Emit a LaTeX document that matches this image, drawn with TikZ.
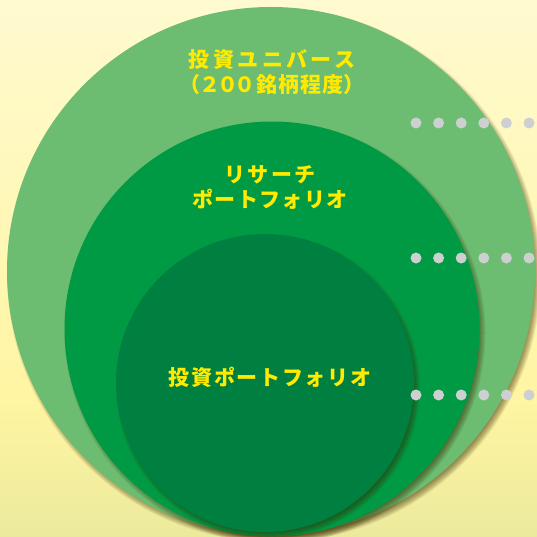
\documentclass[tikz,border=0pt]{standalone}
\usepackage{fontspec}
\newfontfamily\jp{Noto Sans CJK JP}
\definecolor{bgtop}{HTML}{FFFAD0}
\definecolor{bgmid}{HTML}{FFF5A2}
\definecolor{bgbot}{HTML}{EBEA9C}
\definecolor{cuniverse}{HTML}{6CBD72}
\definecolor{cresearch}{HTML}{009A44}
\definecolor{cportfolio}{HTML}{008040}
\definecolor{txtyellow}{HTML}{FFEA00}
\definecolor{dotgray}{HTML}{CDD0D0}
\definecolor{shadowc}{HTML}{3A2800}
\tikzset{
  disc/.style={circle, inner sep=0pt, outer sep=0pt, draw=none},
  label/.style={text=txtyellow, align=center, font=\jp\bfseries\fontsize{21}{25.5}\selectfont},
  dotmark/.style={circle, inner sep=0pt, minimum size=11pt, fill=dotgray, draw=none},
}
\newcommand{\softshadow}[3]{%
  \foreach \k in {0,...,7}{
    \fill[shadowc, opacity=0.085] (#1+3,#2+4) circle ({#3+3-\k*1.0});
  }%
}
\begin{document}
\begin{tikzpicture}[x=1pt,y=-1pt]
\useasboundingbox (0,0) rectangle (537,537);
\shade[top color=bgtop, bottom color=bgmid] (0,0) rectangle (537,400.5);
\shade[top color=bgmid, bottom color=bgbot] (0,400) rectangle (537,537);
% universe
\softshadow{271}{271}{264}
\node[disc, fill=cuniverse, minimum size=528pt] (universe) at (271,271) {};
% research
\softshadow{272}{329}{207.5}
\node[disc, fill=cresearch, minimum size=415pt] (research) at (272,329) {};
% portfolio
\softshadow{265}{383}{149}
\node[disc, fill=cportfolio, minimum size=298pt] (portfolio) at (265,383) {};
% labels
\node[label] (tuniverse) at (272,72) {{\addfontfeature{LetterSpace=16}投資ユニバース}\\（\kern-1pt２\kern-3.5pt０\kern-3.5pt０\kern1pt 銘\kern1pt 柄\kern1pt 程\kern1pt 度）};
\node[label] (tresearch) at (270,187.5) {{\addfontfeature{LetterSpace=10}リサーチ}\\{\addfontfeature{LetterSpace=6}ポートフォリオ}};
\node[label] (tportfolio) at (270,377) {\addfontfeature{LetterSpace=8}投資ポートフォリオ};
% dots
\foreach \r/\yy in {a/123,b/258,c/395}{
  \foreach \i in {0,...,5}{
    \node[dotmark] (dot\r\i) at ({416+\i*22.6},\yy) {};
  }
}
\end{tikzpicture}
\end{document}
